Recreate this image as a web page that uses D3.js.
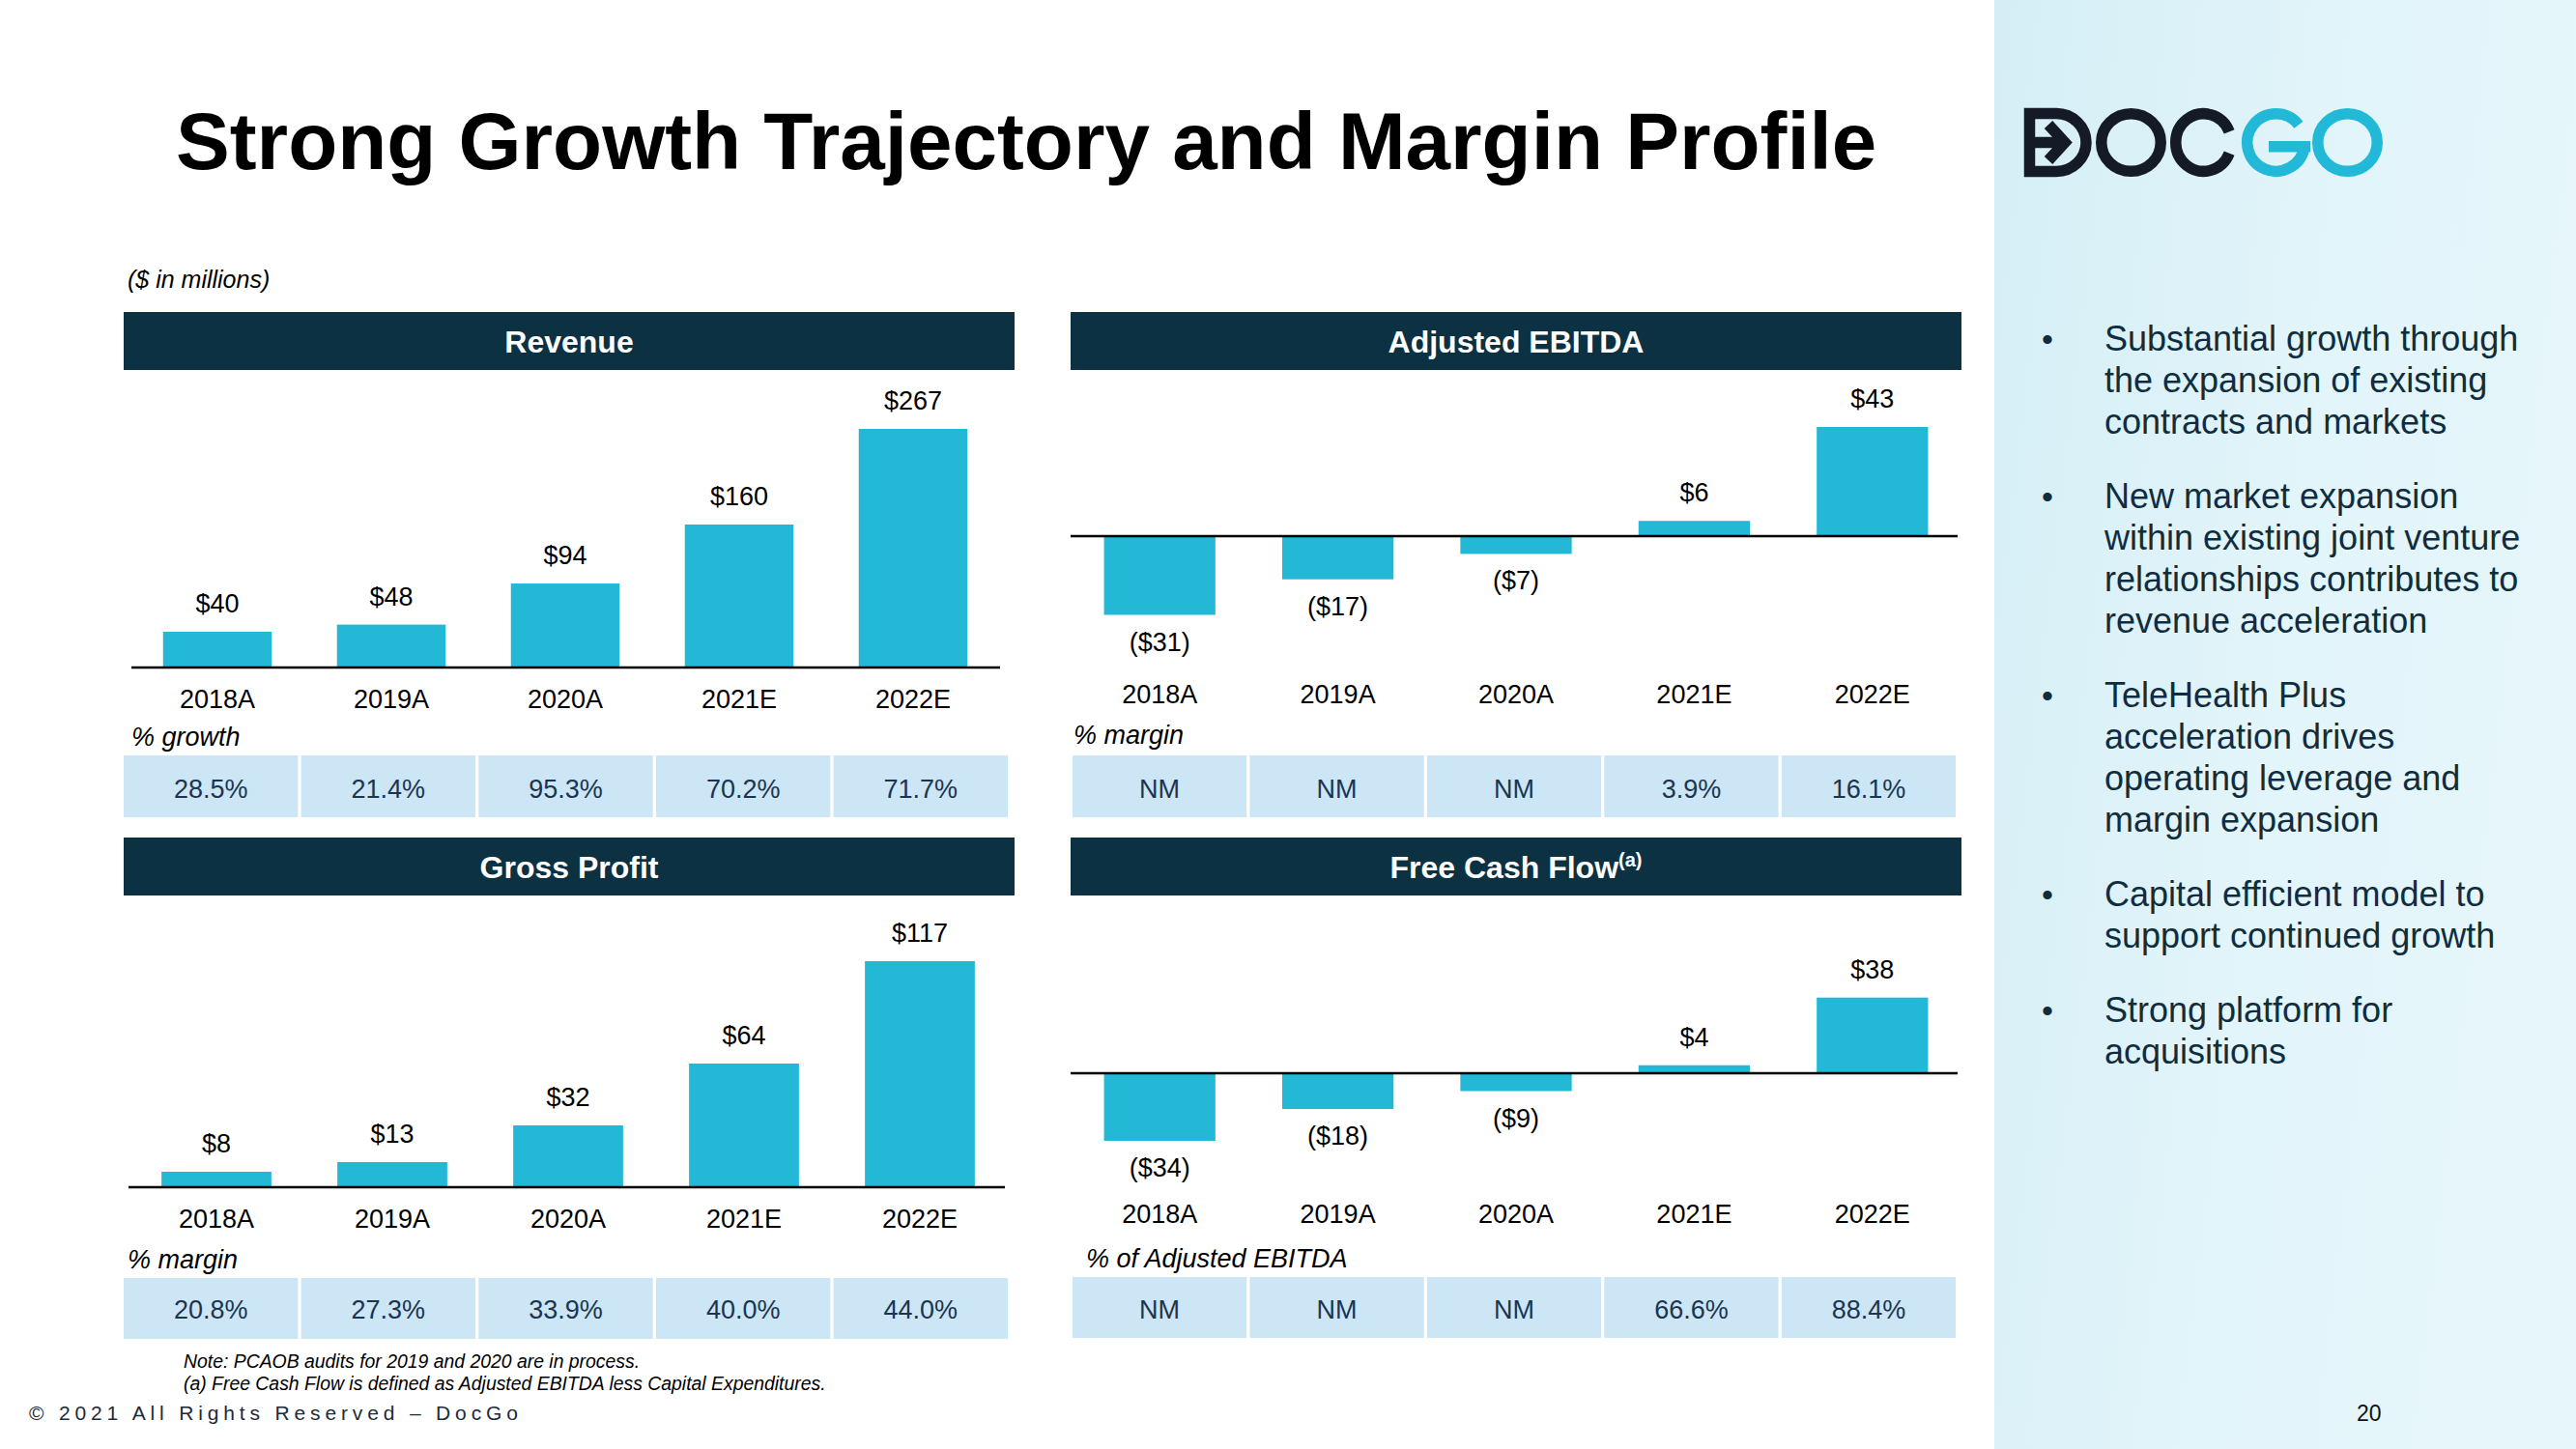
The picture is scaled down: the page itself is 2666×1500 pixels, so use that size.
<!DOCTYPE html>
<html><head><meta charset="utf-8">
<script src="https://cdn.jsdelivr.net/npm/d3@7"></script>
<style>body{margin:0;background:#fff;} svg{display:block;}</style>
</head><body>
<svg id="c" width="2666" height="1500"></svg>
<script>
// ---------- DATA ----------
const years = ["2018A","2019A","2020A","2021E","2022E"];
const revenue = [40,48,94,160,267];
const revenueGrowth = ["28.5%","21.4%","95.3%","70.2%","71.7%"];
const ebitda = [-31,-17,-7,6,43];
const ebitdaMargin = ["NM","NM","NM","3.9%","16.1%"];
const grossProfit = [8,13,32,64,117];
const grossMargin = ["20.8%","27.3%","33.9%","40.0%","44.0%"];
const fcf = [-34,-18,-9,4,38];
const fcfOfEbitda = ["NM","NM","NM","66.6%","88.4%"];
const bullets = [
  ["Substantial growth through","the expansion of existing","contracts and markets"],
  ["New market expansion","within existing joint venture","relationships contributes to","revenue acceleration"],
  ["TeleHealth Plus","acceleration drives","operating leverage and","margin expansion"],
  ["Capital efficient model to","support continued growth"],
  ["Strong platform for","acquisitions"]
];
const titleText = "Strong Growth Trajectory and Margin Profile";
const unitsText = "($ in millions)";
const notes = ["Note: PCAOB audits for 2019 and 2020 are in process.",
               "(a) Free Cash Flow is defined as Adjusted EBITDA less Capital Expenditures."];
const copyright = "© 2021 All Rights Reserved – DocGo";
const pageNum = "20";

// ---------- STYLE ----------
const FONT = "'Liberation Sans', Arial, Helvetica, sans-serif";
const CYAN = "#22b8d6", NAVY = "#0b3142", CELL = "#cce6f6", CELLTXT = "#1b3550";

const svg = d3.select("#c").style("font-family", FONT);
const defs = svg.append("defs");
const grad = defs.append("linearGradient").attr("id","panelGrad").attr("x1","0").attr("y1","0").attr("x2","1").attr("y2","0.3");
grad.append("stop").attr("offset","0").attr("stop-color","#d5eef6");
grad.append("stop").attr("offset","0.6").attr("stop-color","#e2f5fa");
grad.append("stop").attr("offset","1").attr("stop-color","#e6f6fb");

svg.append("rect").attr("width",2666).attr("height",1500).attr("fill","#fff");
svg.append("rect").attr("x",2064).attr("y",0).attr("width",602).attr("height",1500).attr("fill","url(#panelGrad)");

// Title
svg.append("text").attr("x",182).attr("y",175).attr("font-size",83.6).attr("font-weight","bold").attr("fill","#000").text(titleText);
svg.append("text").attr("x",132).attr("y",298).attr("font-size",25).attr("font-style","italic").attr("fill","#000").text(unitsText);

// ---------- PANELS ----------
const panels = [
  {title:"Revenue", values:revenue, rowLabel:"% growth", row:revenueGrowth,
   hx:[128,1050], hy:323, barRange:[135,1035], yDomain:[0,267], yRange:[691,444], lineX:[136,1035],
   catY:733, rlX:136, rlY:772, tRange:[128,1043], tY:[782,846], tTextY:826},
  {title:"Adjusted EBITDA", values:ebitda, rowLabel:"% margin", row:ebitdaMargin,
   hx:[1108,2030], hy:323, barRange:[1108,2030], yDomain:[-31,43], yRange:[636.5,442], lineX:[1108,2026],
   catY:728, rlX:1111, rlY:770, tRange:[1110,2024], tY:[782,846], tTextY:826},
  {title:"Gross Profit", values:grossProfit, rowLabel:"% margin", row:grossMargin,
   hx:[128,1050], hy:867, barRange:[133,1043], yDomain:[0,117], yRange:[1229,995], lineX:[133,1040],
   catY:1271, rlX:132, rlY:1313, tRange:[128,1043], tY:[1323,1386], tTextY:1365},
  {title:"Free Cash Flow", sup:"(a)", values:fcf, rowLabel:"% of Adjusted EBITDA", row:fcfOfEbitda,
   hx:[1108,2030], hy:867, barRange:[1108,2030], yDomain:[-34,38], yRange:[1181,1032.7], lineX:[1108,2026],
   catY:1266, rlX:1124, rlY:1312, tRange:[1110,2024], tY:[1322,1385], tTextY:1365}
];

const fmt = v => v < 0 ? `($${-v})` : `$${v}`;

panels.forEach(p => {
  const g = svg.append("g");
  // header
  g.append("rect").attr("x",p.hx[0]).attr("y",p.hy).attr("width",p.hx[1]-p.hx[0]).attr("height",60).attr("fill",NAVY);
  const ht = g.append("text").attr("x",(p.hx[0]+p.hx[1])/2).attr("y",p.hy+42).attr("text-anchor","middle")
    .attr("font-size",32).attr("font-weight","bold").attr("fill","#fff");
  ht.append("tspan").text(p.title);
  if (p.sup) ht.append("tspan").attr("font-size",20).attr("dy",-12).text(p.sup);

  const x = d3.scaleBand().domain(years).range(p.barRange).paddingInner(0.375).paddingOuter(0.1875);
  const y = d3.scaleLinear().domain(p.yDomain).range(p.yRange);
  const data = years.map((yr,i) => ({yr, v:p.values[i]}));

  g.selectAll("rect.bar").data(data).join("rect").attr("class","bar")
    .attr("x", d => x(d.yr)).attr("width", x.bandwidth())
    .attr("y", d => Math.min(y(d.v), y(0))).attr("height", d => Math.abs(y(d.v)-y(0)))
    .attr("fill", CYAN);

  g.append("line").attr("x1",p.lineX[0]).attr("x2",p.lineX[1]).attr("y1",y(0)).attr("y2",y(0))
    .attr("stroke","#000").attr("stroke-width",2.5);

  g.selectAll("text.val").data(data).join("text").attr("class","val")
    .attr("x", d => x(d.yr) + x.bandwidth()/2)
    .attr("y", d => d.v >= 0 ? y(d.v) - 20 : y(d.v) + 37)
    .attr("text-anchor","middle").attr("font-size",27).attr("fill","#000").text(d => fmt(d.v));

  // category axis
  const ax = g.append("g").attr("transform",`translate(0,${p.catY})`)
    .call(d3.axisBottom(x).tickSize(0).tickPadding(0));
  ax.select(".domain").remove();
  ax.selectAll("text").attr("y",0).attr("dy",null).attr("font-size",27).attr("fill","#000").attr("font-family",FONT);

  // row label
  g.append("text").attr("x",p.rlX).attr("y",p.rlY).attr("font-size",27).attr("font-style","italic").attr("fill","#000").text(p.rowLabel);

  // table
  const tx = d3.scaleBand().domain(years).range(p.tRange).paddingInner(0.018).paddingOuter(0);
  g.selectAll("rect.cell").data(data).join("rect").attr("class","cell")
    .attr("x", d => tx(d.yr)).attr("width", tx.bandwidth())
    .attr("y", p.tY[0]).attr("height", p.tY[1]-p.tY[0]).attr("fill", CELL);
  g.selectAll("text.cell").data(p.row).join("text").attr("class","cell")
    .attr("x", (d,i) => tx(years[i]) + tx.bandwidth()/2).attr("y", p.tTextY)
    .attr("text-anchor","middle").attr("font-size",27).attr("fill",CELLTXT).text(d => d);
});

// ---------- LOGO ----------
(function(){
  const DARK = "#141b26", LC = "#22b9d9", sw = 11.5;
  const lg = svg.append("g").attr("fill","none").attr("stroke-width",sw);
  lg.append("path").attr("d","M2100.5,117.5 H2128 A31,30 0 0 1 2128,177.5 H2100.5 Z").attr("stroke",DARK).attr("stroke-linejoin","miter");
  lg.append("path").attr("d","M2100,147.5 H2132").attr("stroke",DARK);
  lg.append("path").attr("d","M2120,129 L2137,147.5 L2120,166").attr("stroke",DARK).attr("stroke-linejoin","miter");
  lg.append("ellipse").attr("cx",2205.5).attr("cy",147.5).attr("rx",30.75).attr("ry",29.75).attr("stroke",DARK);
  const pt = (cx,cy,rx,ry,a) => [cx+rx*Math.cos(a*Math.PI/180), cy+ry*Math.sin(a*Math.PI/180)];
  let a1 = pt(2280.5,147.5,28.75,29.75,-22), a2 = pt(2280.5,147.5,28.75,29.75,22);
  lg.append("path").attr("d",`M${a1} A28.75,29.75 0 1 0 ${a2}`).attr("stroke",DARK);
  let g1 = pt(2355.5,147.5,29.75,29.75,-38), g2 = pt(2355.5,147.5,29.75,29.75,8);
  lg.append("path").attr("d",`M${g1} A29.75,29.75 0 1 0 ${g2}`).attr("stroke",LC);
  svg.append("rect").attr("x",2348).attr("y",146).attr("width",43).attr("height",11.5).attr("fill",LC);
  lg.append("ellipse").attr("cx",2429.5).attr("cy",147.5).attr("rx",30.75).attr("ry",29.75).attr("stroke",LC);
})();

// ---------- BULLETS ----------
let by = 363;
bullets.forEach(lines => {
  svg.append("text").attr("x",2119).attr("y",by).attr("text-anchor","middle").attr("font-size",34).attr("fill","#0f2d40").text("•");
  lines.forEach((ln,i) => {
    svg.append("text").attr("x",2178).attr("y",by + i*43).attr("font-size",36).attr("fill","#0f2d40").text(ln);
  });
  by += lines.length*43 + 34;
});

// ---------- FOOTER ----------
notes.forEach((n,i) => svg.append("text").attr("x",190).attr("y",1416 + i*23).attr("font-size",19.4).attr("font-style","italic").attr("fill","#000").text(n));
svg.append("text").attr("x",30).attr("y",1470).attr("font-size",21).attr("letter-spacing",4.85).attr("fill","#1c2b39").text(copyright);
svg.append("text").attr("x",2439).attr("y",1471).attr("font-size",23).attr("fill","#111").text(pageNum);
</script></body></html>
